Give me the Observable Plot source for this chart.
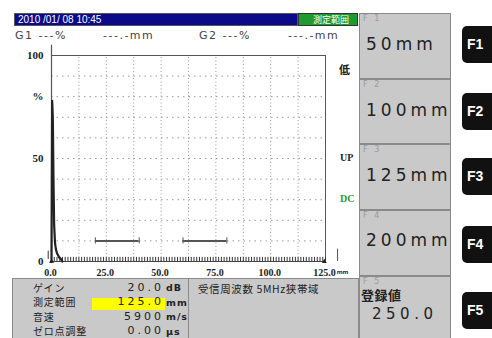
<!DOCTYPE html>
<html>
<head>
<meta charset="utf-8">
<script src="https://cdn.jsdelivr.net/npm/d3@7"></script>
<script src="https://cdn.jsdelivr.net/npm/@observablehq/plot@0.6"></script>
<style>
  html, body { margin: 0; padding: 0; background: #fff; }
  #wrap { position: relative; width: 492px; height: 338px; overflow: hidden; font-family: "DejaVu Sans", sans-serif; }
  #wrap svg { position: absolute; left: 0; top: 0; }
  .abs { position: absolute; white-space: nowrap; }
  .panel { position: absolute; left: 359px; width: 92px; background: #c9c9c9; border: 1px solid #8a8a8a; box-sizing: border-box; }
  .fkey { position: absolute; left: 3px; top: 0px; font-size: 8px; line-height: 9px; color: #9a9a9a; letter-spacing: 2px; }
  .btn { position: absolute; left: 462px; width: 34px; height: 37px; background: #111; border-radius: 5px; color: #fff; font-weight: bold; font-size: 14px; font-family: "Liberation Sans", Arial, sans-serif; }
  .btn span { position: absolute; left: 5px; top: 10px; }
  .jp { font-family: "Noto Sans CJK JP", sans-serif; }
</style>
</head>
<body>
<div id="wrap"></div>
<script>
// ---- data ----
const xTickValues = [0, 25, 50, 75, 100, 125];
const xTickLabels = ["0.0", "25.0", "50.0", "75.0", "100.0", "125.0"];
const yTickValues = [100, 80, 50, 0];
const yTickLabels = ["100", "%", "50", "0"];
const gridX = [12.5, 25, 37.5, 50, 62.5, 75, 87.5, 100, 112.5];
const gridY = [10, 20, 30, 40, 50, 60, 70, 80, 90];
const gateStart = [20, 60];
const gateEnd = [40, 80];
const gateLevel = [10, 10];
const waveX = [0, 0.3, 0.6, 0.9, 1.2, 1.6, 2.0, 2.5, 3.0, 3.5, 4.0, 4.5, 5.0];
const waveY = [0, 78, 70, 40, 18, 9, 6, 4, 3, 2, 1.5, 1, 0];

const headerDate = "2010 /01/ 08   10:45";
const headerMode = "測定範囲";
const gateTexts = ["G1 ---%", "---.-mm", "G2 ---%", "---.-mm"];
const sideLabels = ["低", "UP", "DC"];

const fKeys = ["F1", "F2", "F3", "F4", "F5"];
const fValues = ["50mm", "100mm", "125mm", "200mm", "250.0"];
const fTitle5 = "登録値";

const settingLabels = ["ゲイン", "測定範囲", "音速", "ゼロ点調整"];
const settingValues = ["20.0", "125.0", "5900", "0.00"];
const settingUnits = ["dB", "mm", "m/s", "μs"];
const receiverText = "受信周波数 5MHz狭帯域";

// ---- plot ----
const minorTicks = d3.range(0, 125.001, 1.25);
const gates = gateStart.map((s, i) => ({ s, e: gateEnd[i], y: gateLevel[i] }));
const wave = waveX.map((x, i) => ({ x, y: waveY[i] }));
const xt = xTickValues.map((v, i) => ({ v, l: xTickLabels[i] }));
const yt = yTickValues.map((v, i) => ({ v, l: yTickLabels[i] }));

const chart = Plot.plot({
  width: 492,
  height: 338,
  marginLeft: 51,
  marginRight: 167,
  marginTop: 55,
  marginBottom: 77,
  x: { domain: [0, 125], axis: null },
  y: { domain: [0, 100], axis: null },
  style: { background: "transparent", overflow: "visible" },
  marks: [
    Plot.ruleX(gridX, { y1: 0, y2: 100, stroke: "#999", strokeDasharray: "1,2.5", strokeWidth: 1 }),
    Plot.ruleY(gridY, { x1: 0, x2: 125, stroke: "#999", strokeDasharray: "1.5,4", strokeWidth: 1 }),
    Plot.ruleY([100], { x1: 0, x2: 125, stroke: "#555", strokeWidth: 1 }),
    Plot.ruleX([125], { y1: 0, y2: 100, stroke: "#555", strokeWidth: 1 }),
    Plot.ruleX([0], { y1: -1, y2: 105, stroke: "#555", strokeWidth: 1.2, clip: false }),
    Plot.ruleX(minorTicks, { y1: 0, y2: 2, stroke: "#333", strokeWidth: 1 }),
    Plot.ruleX([130.5], { y1: 0, y2: 6, stroke: "#555", strokeWidth: 1 }),
    Plot.ruleX([-1.5], { y1: 1, y2: 5, stroke: "#333", strokeWidth: 1 }),
    Plot.ruleY([0], { x1: 0, x2: 125, stroke: "#444", strokeWidth: 1 }),
    Plot.ruleY(gates, { x1: "s", x2: "e", y: "y", stroke: "#555", strokeWidth: 2 }),
    Plot.ruleX(gates, { x: "s", y1: d => d.y - 1.5, y2: d => d.y + 1.5, stroke: "#555", strokeWidth: 1 }),
    Plot.ruleX(gates, { x: "e", y1: d => d.y - 1.5, y2: d => d.y + 1.5, stroke: "#555", strokeWidth: 1 }),
    Plot.line(wave, { x: "x", y: "y", stroke: "#222", strokeWidth: 2.2, curve: "linear" }),
    Plot.dot([0, 124.5], { x: d => d, y: 0, r: 1.8, fill: "#222", symbol: "triangle" }),
    Plot.text(yt, { x: 0, y: "v", text: "l", textAnchor: "end", dx: -8, fontSize: 11, fontWeight: "bold", fontFamily: "Liberation Serif, serif", fill: "#222" }),
    Plot.text(xt, { x: "v", y: -5.3, text: "l", dx: -1, fontSize: 10, fontWeight: "bold", fontFamily: "Liberation Serif, serif", fill: "#222", clip: false }),
    Plot.text(["mm"], { x: 125, y: -5.3, text: d => d, dx: 17, fontSize: 6, fontWeight: "bold", fill: "#222", clip: false })
  ]
});

const wrap = document.getElementById("wrap");
wrap.appendChild(chart);

function add(html, style, cls) {
  const d = document.createElement("div");
  d.className = "abs " + (cls || "");
  d.setAttribute("style", style);
  d.innerHTML = html;
  wrap.appendChild(d);
  return d;
}

// header
add(`<span style="position:absolute;left:3px;top:0px;line-height:12px;font-size:10px;color:#fff;font-family:'Liberation Sans',Arial,sans-serif;">${headerDate}</span>`,
  "left:14px;top:13px;width:284px;height:13px;background:#0b0b8a;border:1px solid #555;box-sizing:border-box;");
add(`<span class="jp" style="position:absolute;left:14px;top:0px;line-height:11px;font-size:9px;color:#fff;">${headerMode}</span>`,
  "left:298px;top:13px;width:60px;height:13px;background:#1e9a2e;border:1px solid #333;box-sizing:border-box;");
const gPos = [15, 103, 199, 288];
gateTexts.forEach((t, i) => add(t, `left:${gPos[i]}px;top:29px;line-height:13px;font-size:11px;color:#444;letter-spacing:1.5px;font-family:'DejaVu Sans',sans-serif;`));

// side labels
add(sideLabels[0], "left:339px;top:63px;line-height:13px;font-size:11px;font-weight:bold;color:#222;", "jp");
add(sideLabels[1], "left:340px;top:152px;line-height:12px;font-size:10px;font-weight:bold;color:#222;font-family:'Liberation Serif',serif;");
add(sideLabels[2], "left:340px;top:193px;line-height:12px;font-size:10px;font-weight:bold;color:#2aa02a;font-family:'Liberation Serif',serif;");

// F panels
const panelTop = [13, 79, 144, 210, 276];
const panelH = [66, 65, 66, 66, 64];
const valTop = [35, 101, 166, 231, 306];
const btnTop = [26, 93, 158, 226, 292];
fKeys.forEach((k, i) => {
  const p = document.createElement("div");
  p.className = "panel";
  p.style.top = panelTop[i] + "px";
  p.style.height = panelH[i] + "px";
  p.innerHTML = `<span class="fkey">${k.split("").join(" ")}</span>`;
  wrap.appendChild(p);
  if (i === 4) {
    add(fTitle5, `left:361px;top:287px;line-height:15px;font-size:13px;font-weight:bold;color:#222;letter-spacing:0.5px;`, "jp");
    add(fValues[i], `left:372px;top:${valTop[i]}px;line-height:17px;font-size:15px;color:#222;letter-spacing:4.5px;`);
  } else {
    add(fValues[i], `left:366px;top:${valTop[i]}px;line-height:18px;font-size:17px;color:#222;letter-spacing:4px;`);
  }
  const b = document.createElement("div");
  b.className = "btn";
  b.style.top = btnTop[i] + "px";
  b.innerHTML = `<span>${k}</span>`;
  wrap.appendChild(b);
});

// bottom settings panel
add("", "left:12px;top:278px;width:347px;height:62px;background:#c9c9c9;border:1px solid #8a8a8a;box-sizing:border-box;");
add("", "left:188px;top:278px;width:1px;height:62px;background:#8a8a8a;");
add("", "left:92px;top:298px;width:73px;height:12px;background:#ffff00;");
const rowCenter = [287.5, 302, 316.5, 331];
settingLabels.forEach((l, i) => {
  add(l, `left:33px;top:${rowCenter[i] - 6}px;font-size:10px;color:#222;line-height:12px;letter-spacing:0.8px;`, "jp");
  add(settingValues[i], `left:100px;width:64px;text-align:right;top:${rowCenter[i] - 6}px;font-size:11px;color:#222;letter-spacing:3px;line-height:12px;font-family:'DejaVu Sans',sans-serif;`);
  add(settingUnits[i], `left:166px;top:${rowCenter[i] - 5.5}px;font-size:9.5px;color:#222;letter-spacing:1px;line-height:11px;font-weight:bold;`);
});
add(receiverText, "left:198px;top:282px;font-size:10.5px;color:#222;line-height:13px;letter-spacing:0.6px;", "jp");
</script>
</body>
</html>
